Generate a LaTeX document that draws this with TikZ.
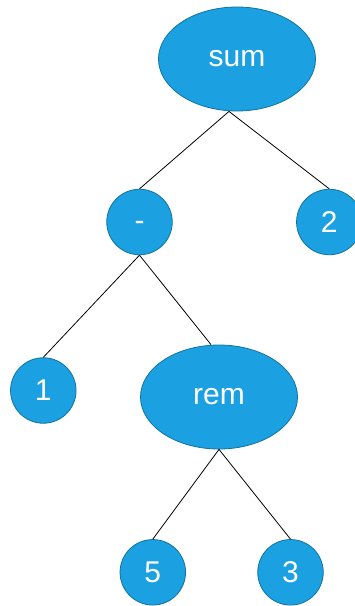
\documentclass[tikz,border=0pt]{standalone}
\usepackage{fontspec}
\setmainfont{Liberation Sans}
\usetikzlibrary{shapes.geometric}
\definecolor{nodefill}{HTML}{1BA1E2}
\definecolor{nodeline}{HTML}{10739E}
\begin{document}
\begin{tikzpicture}[x=1pt,y=-1pt,
  treenode/.style={fill=nodefill,draw=nodeline,line width=0.8pt,text=white,
    inner sep=0pt,font=\fontsize{30}{36}\selectfont},
  leaf/.style={treenode,circle,minimum size=65.5pt},
  opnode/.style={treenode,ellipse,minimum width=157pt,minimum height=104pt},
  edge/.style={draw=black,line width=0.8pt}]
\useasboundingbox (0,0) rectangle (355,606);
% expression tree for sum(1 - rem(5, 3), 2)
\node[opnode] (sum)   at (237,59)      {sum};
% the minus sign is centred on its bar, not on its glyph box
\node[leaf]   (minus) at (139.5,222)   {\smash{\raisebox{-8.2pt}{-}}};
\node[leaf]   (two)   at (329.3,222)   {2};
\node[leaf]   (one)   at (43.3,390.5)  {1};
\node[opnode] (rem)   at (219,397)     {rem};
\node[leaf]   (five)  at (152.8,572.3) {5};
\node[leaf]   (three) at (290.5,572.3) {3};
% edges
\draw[edge] ([xshift=-8pt]sum.south) -- (minus.north);
\draw[edge] ([xshift=-8pt]sum.south) -- (two.north);
\draw[edge] (minus.south) -- (one.north);
\draw[edge] (minus.south) -- ([xshift=-8pt]rem.north);
\draw[edge] (rem.south) -- (five.north);
\draw[edge] (rem.south) -- (three.north);
\end{tikzpicture}
\end{document}
